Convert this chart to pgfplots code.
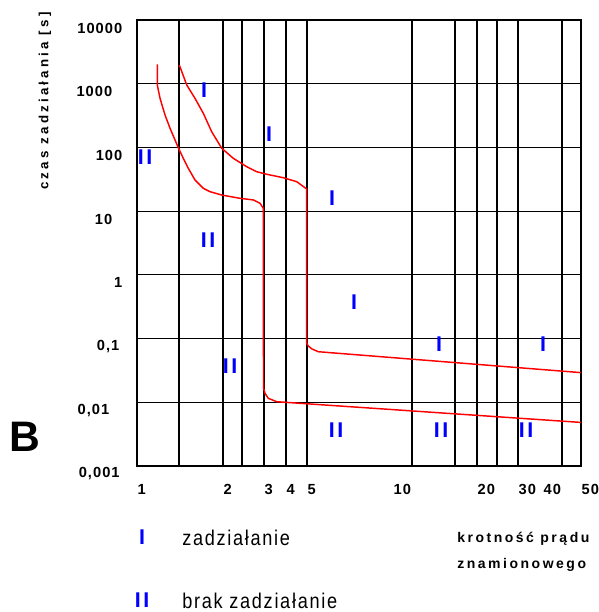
\documentclass[border=0pt]{standalone}
\usepackage{fontspec}
\setmainfont{Liberation Sans}
\usepackage{pgfplots}
\pgfplotsset{compat=1.18}
\newfontfamily\tickf[LetterSpace=7]{Liberation Sans}
\newfontfamily\capf[LetterSpace=24]{Liberation Sans}
\newfontfamily\capsf[LetterSpace=18]{Liberation Sans}
\newfontfamily\lblf[LetterSpace=8,FakeStretch=0.85]{Liberation Sans}
\newfontfamily\romf[LetterSpace=12]{Liberation Sans}

\begin{document}
\begin{tikzpicture}
% page = 599x612 px, 1 px = 0.75pt, axis south west at px (137,466)
\useasboundingbox (-102.75pt,-109.5pt) rectangle (346.5pt,349.5pt);

\begin{axis}[
  scale only axis,
  width=333pt, height=334.5pt,
  xmode=log, ymode=log,
  xmin=1, xmax=50, ymin=0.001, ymax=10000,
  axis line style={line width=0.9pt},
  major tick length=0pt, minor tick length=0pt,
  grid style={black, line width=0.9pt},
  xtick={1,2.134,3.062,3.717,4.473,9.542,20,28.71,35.77,50},
  xticklabels={1,2,3,4,5,10,20,30,40,50},
  xticklabel style={anchor=north west, xshift=-3pt, yshift=-10.5pt,
    font=\tickf\bfseries\fontsize{11}{11}\selectfont},
  extra x ticks={1.448,2.134,2.522,3.062,3.717,4.473,11.28,16.48,20.0,23.86,28.71,42.30},
  extra x tick labels={},
  extra x tick style={grid=major},
  ytick={0.001,0.01,0.1,1,10,100,1000,10000},
  yticklabels={{0,001\kern2pt},{0,01\kern9.75pt},{0,1\kern2.25pt},1,{10\kern7.5pt},100,{1000\kern7.5pt},10000},
  yticklabel style={xshift=-7.5pt, yshift=-6pt,
    font=\tickf\bfseries\fontsize{11}{11}\selectfont},
  ymajorgrids,
]

% krzywa II (brak zadzialania)
\addplot[red, line width=1.1pt] coordinates {
  (1.196,2017) (1.196,955) (1.225,590) (1.280,323) (1.338,199.6)
  (1.398,130.9) (1.452,91.2) (1.504,67.5) (1.572,47.0) (1.667,30.8)
  (1.794,22.8) (1.903,20.2) (2.110,17.9) (2.479,15.9) (2.786,15.0)
  (2.956,13.3) (3.043,11.1) (3.049,0.01675) (3.089,0.01384)
  (3.180,0.01155) (3.424,0.01021) (4.205,0.00964) (50,0.00483)
};

% krzywa I (zadzialanie)
\addplot[red, line width=1.1pt] coordinates {
  (1.452,1967) (1.550,955) (1.667,590) (1.794,343) (1.931,176.6)
  (2.110,96.9) (2.336,67.5) (2.629,49.9) (2.871,41.6) (3.136,37.9)
  (3.629,33.5) (4.084,29.0) (4.461,22.3) (4.461,0.0844) (4.524,0.0764)
  (4.674,0.0686) (4.941,0.0622) (50,0.0292)
};
\end{axis}

\begin{scope}[x=0.75pt, y=-0.75pt, shift={(-102.75pt,349.5pt)},
  every node/.style={inner sep=0pt}]
  % oznaczenia obszarow
  \begin{scope}[every node/.append style={text=blue,
      font=\romf\bfseries\fontsize{16}{16}\selectfont}]
    \node at (204,90) {I};
    \node at (269,134) {I};
    \node at (145,157) {II};
    \node at (332,198) {I};
    \node at (208,240) {II};
    \node at (354,302) {I};
    \node at (230,366) {II};
    \node at (439,344) {I};
    \node at (543,344) {I};
    \node at (336,430) {II};
    \node at (441,430) {II};
    \node at (526,430) {II};
    \node at (142,537) {I};
    \node at (142,600) {II};
  \end{scope}

  \node[rotate=90, font=\capf\bfseries\fontsize{10}{10}\selectfont]
    at (45,101) {czas zadziałania [s]};
  \node[font=\bfseries\fontsize{32}{32}\selectfont] at (24.5,437) {B};

  \node[anchor=base west, font=\lblf\fontsize{16}{16}\selectfont]
    at (182,545) {zadziałanie};
  \node[anchor=base west, font=\lblf\fontsize{16}{16}\selectfont]
    at (182,608) {brak zadziałanie};

  \node[anchor=base west, font=\capsf\bfseries\fontsize{10.5}{10.5}\selectfont]
    at (457,542) {krotność prądu};
  \node[anchor=base west, font=\capsf\bfseries\fontsize{10.5}{10.5}\selectfont]
    at (457,568) {znamionowego};
\end{scope}
\end{tikzpicture}
\end{document}
